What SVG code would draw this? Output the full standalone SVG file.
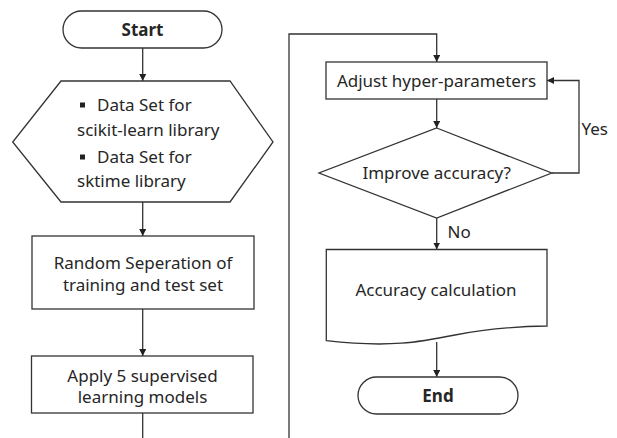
<svg xmlns="http://www.w3.org/2000/svg" width="617" height="438" viewBox="0 0 617 438">
  <defs>
    <marker id="arrow" viewBox="0 0 10 10" refX="10" refY="5" markerWidth="7" markerHeight="7" markerUnits="userSpaceOnUse" orient="auto">
      <path d="M0,0 L10,5 L0,10 Z" fill="#222"/>
    </marker>
    <style>
      .shape { fill: #fff; stroke: #333; stroke-width: 1.3; }
      .edge { fill: none; stroke: #333; stroke-width: 1.3; }
      .txt { font-family: "Noto Sans", "Open Sans", "Liberation Sans", sans-serif; font-size: 17px; fill: #262626; }
      .mid { text-anchor: middle; }
      .bold { font-weight: bold; }
    </style>
  </defs>
  <rect width="617" height="438" fill="#fff"/>

  <!-- connectors -->
  <g id="connectors">
    <line class="edge" x1="142.7" y1="48" x2="142.7" y2="81" marker-end="url(#arrow)"/>
    <line class="edge" x1="142.7" y1="202" x2="142.7" y2="236" marker-end="url(#arrow)"/>
    <line class="edge" x1="142.7" y1="309" x2="142.7" y2="356" marker-end="url(#arrow)"/>
    <line class="edge" x1="142.7" y1="413" x2="142.7" y2="438"/>
    <polyline class="edge" points="289,438 289,34 436.7,34 436.7,62" marker-end="url(#arrow)"/>
    <line class="edge" x1="436.7" y1="99" x2="436.7" y2="128" marker-end="url(#arrow)"/>
    <polyline class="edge" points="551.7,173 579,173 579,80.5 547,80.5" marker-end="url(#arrow)"/>
    <line class="edge" x1="436.7" y1="218" x2="436.7" y2="249.5" marker-end="url(#arrow)"/>
    <line class="edge" x1="436.7" y1="342" x2="436.7" y2="377" marker-end="url(#arrow)"/>
    <text class="txt" x="581.5" y="135">Yes</text>
    <text class="txt" x="447.5" y="238">No</text>
  </g>

  <g id="start">
    <rect class="shape" x="63" y="11" width="159" height="37" rx="18.5" ry="18.5"/>
    <text class="txt mid bold" x="142.5" y="35.5">Start</text>
  </g>

  <g id="datasets">
    <polygon class="shape" points="61,81 230,81 273,142 230,202 61,202 12.7,142"/>
    <rect x="80" y="102.5" width="5" height="5" fill="#222"/>
    <text class="txt" x="97" y="111">Data Set for</text>
    <text class="txt" x="77" y="135.5">scikit-learn library</text>
    <rect x="80" y="154.5" width="5" height="5" fill="#222"/>
    <text class="txt" x="97" y="163">Data Set for</text>
    <text class="txt" x="77" y="187">sktime library</text>
  </g>

  <g id="separation">
    <rect class="shape" x="32" y="236" width="222" height="73"/>
    <text class="txt mid" x="143" y="268.5">Random Seperation of</text>
    <text class="txt mid" x="143" y="290.5">training and test set</text>
  </g>

  <g id="models">
    <rect class="shape" x="31.5" y="356" width="221.5" height="57"/>
    <text class="txt mid" x="142.5" y="381.5">Apply 5 supervised</text>
    <text class="txt mid" x="142.5" y="402.5">learning models</text>
  </g>

  <g id="adjust">
    <rect class="shape" x="326" y="62" width="221" height="37"/>
    <text class="txt mid" x="436.5" y="86.5">Adjust hyper-parameters</text>
  </g>

  <g id="decision">
    <polygon class="shape" points="436.7,128 551.7,173 436.7,218 319,173"/>
    <text class="txt mid" x="436.7" y="179">Improve accuracy?</text>
  </g>

  <g id="accuracy">
    <path class="shape" d="M326.3,249.5 H547 V326 C515,326.5 485,329 455,335 C420,342 390,348 326.3,340.7 Z"/>
    <text class="txt mid" x="436" y="296">Accuracy calculation</text>
  </g>

  <g id="end">
    <rect class="shape" x="358" y="377" width="160" height="37" rx="18.5" ry="18.5"/>
    <text class="txt mid bold" x="438" y="401.5">End</text>
  </g>
</svg>
